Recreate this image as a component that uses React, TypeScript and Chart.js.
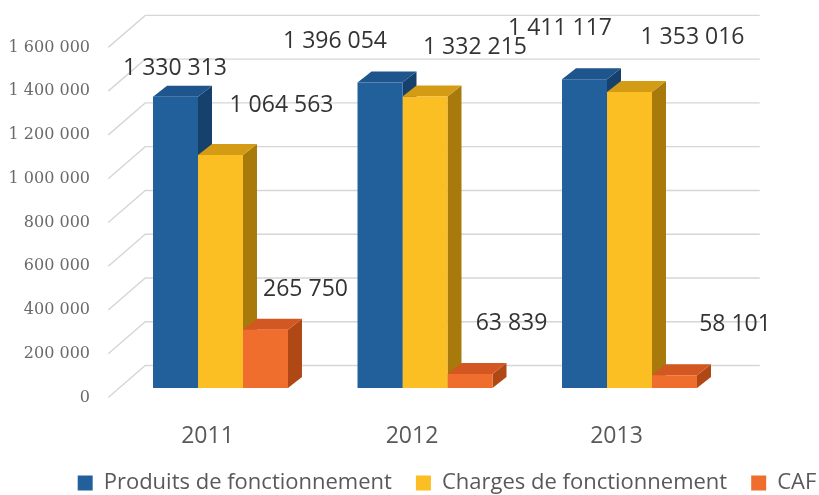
import React, { useEffect, useRef } from "react";
import { Chart, registerables } from "chart.js";

Chart.register(...registerables);

// ---- data ----
const YEARS = ["2011", "2012", "2013"];
const SERIES_NAMES = ["Produits de fonctionnement", "Charges de fonctionnement", "CAF"];
const PRODUITS = [1330313, 1396054, 1411117];
const CHARGES = [1064563, 1332215, 1353016];
const CAF = [265750, 63839, 58101];
const Y_MIN = 0;
const Y_MAX = 1600000;
const Y_STEP = 200000;

// ---- styles ----
const COLORS = [
  { front: "#22609c", top: "#1d558c", side: "#16416c" },
  { front: "#fbbf24", top: "#d39c14", side: "#a87a0c" },
  { front: "#ef6d2d", top: "#d25720", side: "#b04816" },
];
// label nudges (px) relative to the top-front centre of each bar, per series then per year
const LABEL_NUDGE = [
  [[-0.5, -28], [-45, -41.5], [-24.5, -51]],
  [[61, -50], [50, -48.6], [63, -54]],
  [[40, -40], [41.5, -51], [60.5, -51]],
];
const DEPTH_X = 14;
const DEPTH_Y = -11;

const fmt = (v: number) =>
  Math.round(v).toString().replace(/\B(?=(\d{3})+(?!\d))/g, " ");

const threeD = {
  id: "threeD",
  beforeDatasetsDraw(chart: any) {
    const { ctx, chartArea, scales } = chart;
    const y = scales.y;
    ctx.save();
    // back wall grid + left diagonals
    ctx.strokeStyle = "#d6d6d6";
    ctx.lineWidth = 1.4;
    const wallL = chartArea.left + 27;
    const wallR = chartArea.right + 28;
    const frontX = chartArea.left - 10;
    y.ticks.forEach((t: any) => {
      const p = y.getPixelForValue(t.value);
      const back = p - 22.5;
      const front = p + 9.5;
      ctx.beginPath();
      ctx.moveTo(frontX, front);
      ctx.lineTo(wallL, back);
      ctx.lineTo(wallR, back);
      ctx.stroke();
    });
    // side and top faces
    chart.data.datasets.forEach((_ds: any, di: number) => {
      const meta = chart.getDatasetMeta(di);
      meta.data.forEach((bar: any) => {
        const l = bar.x - bar.width / 2;
        const r = bar.x + bar.width / 2;
        const t = bar.y;
        const b = bar.base;
        ctx.fillStyle = COLORS[di].side;
        ctx.beginPath();
        ctx.moveTo(r, t);
        ctx.lineTo(r + DEPTH_X, t + DEPTH_Y);
        ctx.lineTo(r + DEPTH_X, b + DEPTH_Y);
        ctx.lineTo(r, b);
        ctx.closePath();
        ctx.fill();
        ctx.fillStyle = COLORS[di].top;
        ctx.beginPath();
        ctx.moveTo(l, t);
        ctx.lineTo(r, t);
        ctx.lineTo(r + DEPTH_X, t + DEPTH_Y);
        ctx.lineTo(l + DEPTH_X, t + DEPTH_Y);
        ctx.closePath();
        ctx.fill();
      });
    });
    ctx.restore();
  },
  afterDatasetsDraw(chart: any) {
    const { ctx } = chart;
    ctx.save();
    ctx.font = "23px 'Open Sans'";
    ctx.fillStyle = "#333333";
    ctx.textAlign = "center";
    ctx.textBaseline = "middle";
    chart.data.datasets.forEach((ds: any, di: number) => {
      const meta = chart.getDatasetMeta(di);
      meta.data.forEach((bar: any, i: number) => {
        const [dx, dy] = LABEL_NUDGE[di][i];
        ctx.fillText(fmt(ds.data[i]), bar.x + dx, bar.y + dy);
      });
    });
    ctx.restore();
  },
};

export default function App() {
  const ref = useRef<HTMLCanvasElement | null>(null);
  useEffect(() => {
    if (!ref.current) return;
    const values = [PRODUITS, CHARGES, CAF];
    const chart = new Chart(ref.current, {
      type: "bar",
      data: {
        labels: YEARS,
        datasets: SERIES_NAMES.map((name, i) => ({
          label: name,
          data: values[i],
          backgroundColor: COLORS[i].front,
          borderWidth: 0,
          barPercentage: 1,
          categoryPercentage: 0.66,
        })),
      },
      options: {
        responsive: false,
        animation: false,
        layout: { padding: { top: 33.4, left: 0, right: -75, bottom: -9 } },
        scales: {
          x: {
            grid: { display: false, drawTicks: false },
            border: { display: false },
            ticks: {
              font: { family: "'Open Sans'", size: 23 },
              color: "#595959",
              padding: 35,
              labelOffset: -13,
            },
            afterFit: (s: any) => {
              s.height = 60;
            },
          },
          y: {
            min: Y_MIN,
            max: Y_MAX,
            grid: { display: false, drawTicks: false },
            border: { display: false },
            ticks: {
              stepSize: Y_STEP,
              labelOffset: 9.5,
              padding: 28.25,
              font: { family: "'DejaVu Serif'", size: 16 },
              color: "#6a6a6a",
              callback: (v: any) => fmt(Number(v)),
            },
            afterFit: (s: any) => {
              s.width = 118.25;
            },
          },
          yr: {
            type: "linear",
            position: "right",
            display: true,
            grid: { display: false, drawTicks: false },
            border: { display: false },
            ticks: { display: false },
            afterFit: (s: any) => {
              s.width = 162.25;
            },
          },
        },
        plugins: {
          legend: {
            position: "bottom",
            labels: {
              boxWidth: 15,
              boxHeight: 15,
              padding: 24,
              font: { family: "'Open Sans'", size: 22 },
              color: "#595959",
            },
          },
          tooltip: { enabled: false },
        },
      } as any,
      plugins: [threeD],
    });
    return () => chart.destroy();
  }, []);
  return (
    <div style={{ position: "fixed", left: 0, top: 0, width: 819, height: 495, background: "#fff" }}>
      <canvas ref={ref} width={819} height={495} style={{ display: "block" }} />
    </div>
  );
}
